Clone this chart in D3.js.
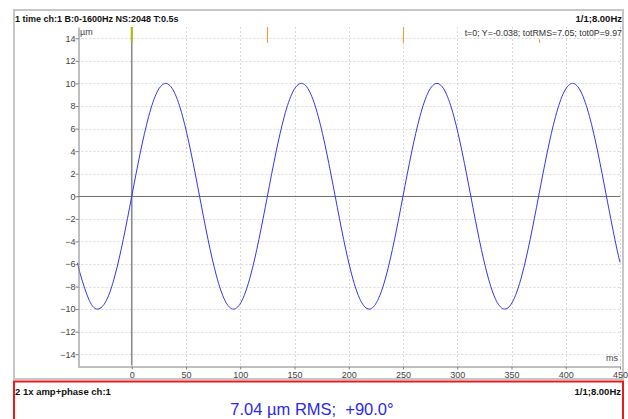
<!DOCTYPE html>
<html>
<head>
<meta charset="utf-8">
<script src="https://cdn.jsdelivr.net/npm/d3@7"></script>
<style>
  body { margin: 0; background: #fff; }
  svg { display: block; font-family: "Liberation Sans", Arial, sans-serif; }
</style>
</head>
<body>
<div id="chart"></div>
<script>
// time trace of ch:1 (ms, µm)
var timeMs = [-50, -46.9, -39.1, -31.3, -23.4, -15.6, -7.8,
  0, 7.8, 15.6, 23.4, 31.3, 39.1, 46.9, 54.7, 62.5, 70.3, 78.1, 85.9, 93.8, 101.6, 109.4, 117.2,
  125, 132.8, 140.6, 148.4, 156.3, 164.1, 171.9, 179.7, 187.5, 195.3, 203.1, 210.9, 218.8, 226.6, 234.4, 242.2,
  250, 257.8, 265.6, 273.4, 281.3, 289.1, 296.9, 304.7, 312.5, 320.3, 328.1, 335.9, 343.8, 351.6, 359.4, 367.2,
  375, 382.8, 390.6, 398.4, 406.3, 414.1, 421.9, 429.7, 437.5, 445.3, 450];
var amplitude = [-5.9, -7.07, -9.24, -10, -9.24, -7.07, -3.83,
  0, 3.83, 7.07, 9.24, 10, 9.24, 7.07, 3.83, 0, -3.83, -7.07, -9.24, -10, -9.24, -7.07, -3.83,
  0, 3.83, 7.07, 9.24, 10, 9.24, 7.07, 3.83, 0, -3.83, -7.07, -9.24, -10, -9.24, -7.07, -3.83,
  0, 3.83, 7.07, 9.24, 10, 9.24, 7.07, 3.83, 0, -3.83, -7.07, -9.24, -10, -9.24, -7.07, -3.83,
  0, 3.83, 7.07, 9.24, 10, 9.24, 7.07, 3.83, 0, -3.83, -5.85];
var yTicks = [-14, -12, -10, -8, -6, -4, -2, 0, 2, 4, 6, 8, 10, 12, 14];
var xTicks = [0, 50, 100, 150, 200, 250, 300, 350, 400, 450];
var harmonicMarks = [125, 250, 375];

var title1 = "1 time ch:1 B:0-1600Hz NS:2048 T:0.5s";
var title2 = "2 1x amp+phase ch:1";
var rateLabel = "1/1;8.00Hz";
var cursorInfo = "t=0; Y=-0.038; totRMS=7.05; tot0P=9.97";
var bigReadout = "7.04 \u00b5m RMS;  +90.0\u00b0";

(function() {
  var W = 628, H = 419;
  var svg = d3.select("#chart").append("svg")
    .attr("width", W).attr("height", H);

  var x = d3.scaleLinear().domain([-50, 450]).range([77.5, 620]);
  var y = d3.scaleLinear().domain([-15, 15]).range([365.5, 27]);

  // panel frames
  svg.append("rect")
    .attr("x", 14).attr("y", 10).attr("width", 609).attr("height", 369)
    .attr("fill", "none").attr("stroke", "#c6c6c6").attr("stroke-width", 2);
  svg.append("rect")
    .attr("x", 14).attr("y", 381.5).attr("width", 609).attr("height", 60)
    .attr("fill", "none").attr("stroke", "#e81a1a").attr("stroke-width", 2);

  // grid
  svg.append("g").selectAll("line")
    .data(yTicks.filter(function(d) { return d != 0; }))
    .enter().append("line")
    .attr("x1", x(-50)).attr("x2", x(450))
    .attr("y1", function(d) { return Math.round(y(d)) + 0.5; })
    .attr("y2", function(d) { return Math.round(y(d)) + 0.5; })
    .attr("stroke", "#d9d9d9").attr("stroke-dasharray", "2,2");
  svg.append("g").selectAll("line")
    .data(xTicks.filter(function(d) { return d != 0; }))
    .enter().append("line")
    .attr("x1", function(d) { return Math.round(x(d)) + 0.5; })
    .attr("x2", function(d) { return Math.round(x(d)) + 0.5; })
    .attr("y1", y(15)).attr("y2", y(-15))
    .attr("stroke", "#d9d9d9").attr("stroke-dasharray", "2,2");

  // zero line
  svg.append("line")
    .attr("x1", x(-50)).attr("x2", x(450))
    .attr("y1", Math.round(y(0)) + 0.5).attr("y2", Math.round(y(0)) + 0.5)
    .attr("stroke", "#707070");

  // cursor
  svg.append("line")
    .attr("x1", x(0)).attr("x2", x(0))
    .attr("y1", y(15)).attr("y2", y(-15))
    .attr("stroke", "#8a8a8a").attr("stroke-width", 1.6);
  svg.append("line")
    .attr("x1", x(0)).attr("x2", x(0))
    .attr("y1", y(15)).attr("y2", y(13.7))
    .attr("stroke", "#b8b800").attr("stroke-width", 2);

  // trace
  var points = timeMs.map(function(t, i) { return [t, amplitude[i]]; });
  var line = d3.line().curve(d3.curveNatural)
    .x(function(d) { return x(d[0]); })
    .y(function(d) { return y(d[1]); });
  svg.append("path")
    .datum(points)
    .attr("d", line)
    .attr("fill", "none").attr("stroke", "#3535ee").attr("stroke-width", 1);

  // axes
  var yAxis = d3.axisLeft(y).tickValues(yTicks).tickSize(3).tickSizeOuter(0);
  var gy = svg.append("g")
    .attr("transform", "translate(" + (Math.round(x(-50)) + 0.5) + ",0)")
    .call(yAxis);
  var xAxis = d3.axisBottom(x).tickValues(xTicks).tickSize(3).tickSizeOuter(0);
  var gx = svg.append("g")
    .attr("transform", "translate(0," + (Math.round(y(-15)) + 0.5) + ")")
    .call(xAxis);
  [gx, gy].forEach(function(g) {
    g.select(".domain").attr("stroke", "#808080");
    g.selectAll(".tick line").attr("stroke", "#808080");
    g.selectAll(".tick text").attr("fill", "#444").attr("font-size", 9)
      .attr("font-family", "Liberation Sans, Arial, sans-serif");
  });
  gy.selectAll(".tick text").attr("x", -3);
  gx.selectAll(".tick text").attr("y", 5);

  // unit labels
  svg.append("text").attr("x", 80).attr("y", 35)
    .attr("font-size", 9).attr("fill", "#444").text("\u00b5m");
  svg.append("text").attr("x", 618).attr("y", 361)
    .attr("font-size", 9).attr("fill", "#444").attr("text-anchor", "end").text("ms");

  // headers
  svg.append("text").attr("x", 15).attr("y", 22)
    .attr("font-size", 9).attr("font-weight", "bold").attr("fill", "#111")
    .text(title1);
  svg.append("text").attr("x", 622).attr("y", 22)
    .attr("font-size", 9.5).attr("font-weight", "bold").attr("fill", "#111")
    .attr("text-anchor", "end").text(rateLabel);

  svg.append("text").attr("x", 622).attr("y", 36)
    .attr("font-size", 8.8).attr("fill", "#333")
    .attr("text-anchor", "end").text(cursorInfo);

  // harmonic markers (drawn over the info text, as in the original)
  svg.append("g").selectAll("line")
    .data(harmonicMarks)
    .enter().append("line")
    .attr("x1", function(d) { return Math.round(x(d)) + 0.5; })
    .attr("x2", function(d) { return Math.round(x(d)) + 0.5; })
    .attr("y1", function(d, i) { return i == 2 ? y(13.9) : y(15); })
    .attr("y2", y(13.6))
    .attr("stroke", "#f39a4a").attr("stroke-width", 1.2);

  svg.append("text").attr("x", 15).attr("y", 395)
    .attr("font-size", 9.5).attr("font-weight", "bold").attr("fill", "#111")
    .text(title2);
  svg.append("text").attr("x", 621).attr("y", 395)
    .attr("font-size", 9.5).attr("font-weight", "bold").attr("fill", "#111")
    .attr("text-anchor", "end").text(rateLabel);

  svg.append("text").attr("x", 312).attr("y", 415)
    .attr("font-size", 16.5).attr("fill", "#2a2ae6")
    .attr("text-anchor", "middle")
    .style("white-space", "pre")
    .text(bigReadout);
})();
</script>
</body>
</html>
